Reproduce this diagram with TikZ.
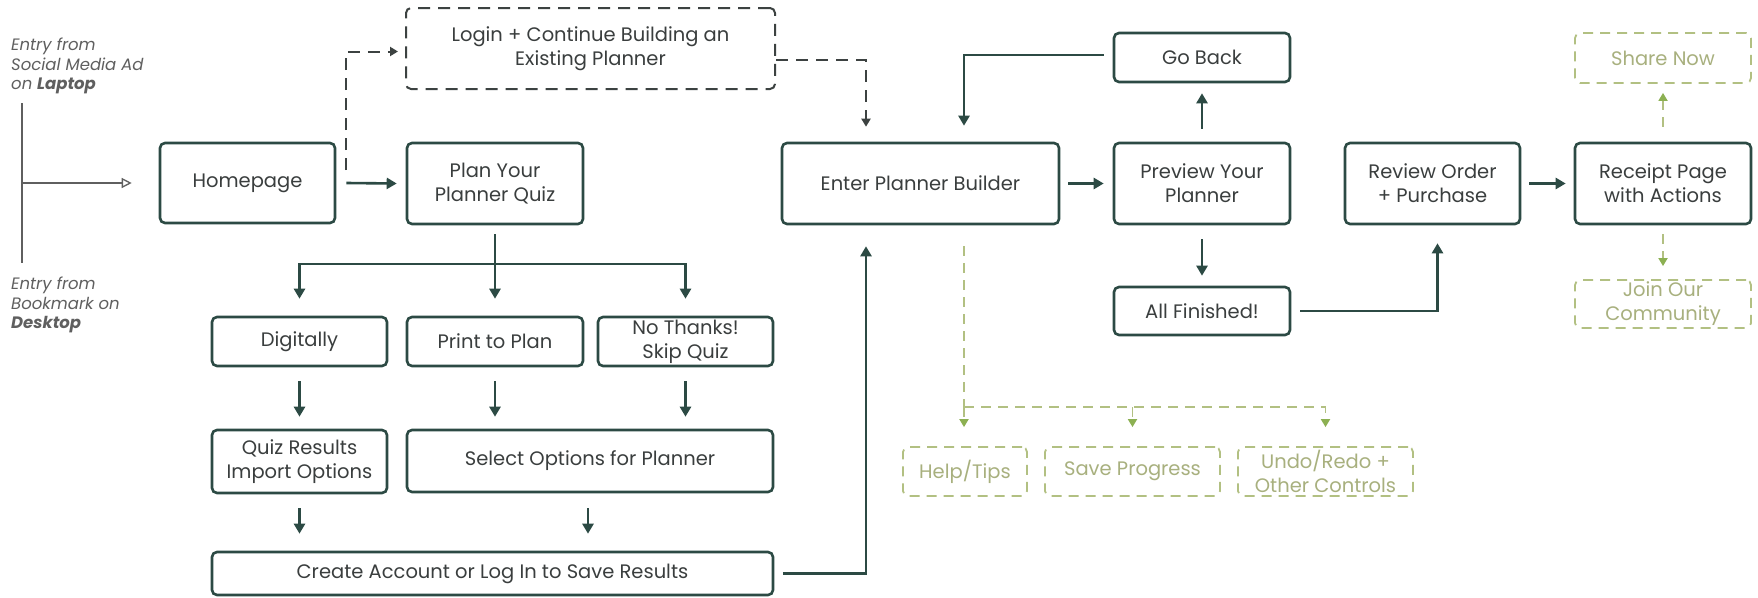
\documentclass[tikz,border=0pt]{standalone}
\usepackage{fontspec}
\setmainfont{Poppins}
\usetikzlibrary{arrows.meta,calc}
\definecolor{dk}{RGB}{44,74,68}
\definecolor{txt}{RGB}{58,62,62}
\definecolor{dsk}{RGB}{60,66,65}
\definecolor{gl}{RGB}{178,192,130}
\definecolor{ga}{RGB}{140,176,82}
\definecolor{gt}{RGB}{168,176,126}
\definecolor{ent}{RGB}{95,95,95}
\tikzset{
  box/.style={draw=dk, line width=2.6pt, rounded corners=5pt, text=txt, align=center,
    font=\fontsize{19.5}{24}\selectfont, inner sep=0pt},
  dbox/.style={box, draw=dsk, line width=2pt, dash pattern=on 12pt off 8pt},
  gbox/.style={box, draw=gl, line width=1.8pt, dash pattern=on 10pt off 7pt, text=gt},
  arr/.style={draw=dk, line width=2.6pt, -{Triangle[length=10pt,width=11pt]}},
  lin/.style={draw=dk, line width=2.6pt},
  darr/.style={draw=dsk, line width=2pt, dash pattern=on 12pt off 8pt, -{Triangle[length=8pt,width=9pt]}},
  garr/.style={draw=gl, line width=1.8pt, dash pattern=on 10pt off 7pt, -{Triangle[length=8pt,width=9pt,color=ga]}},
  glin/.style={draw=gl, line width=1.8pt, dash pattern=on 10pt off 7pt},
  entrytxt/.style={text=ent, align=left, inner sep=0pt, font=\itshape\fontsize{16.5}{19.5}\selectfont},
  entline/.style={draw=ent, line width=1.3pt},
}
\begin{document}
\begin{tikzpicture}[x=1pt,y=-1pt]
\fill[white] (0,0) rectangle (1758,597);
\useasboundingbox (0,0) rectangle (1758,597);

% entry texts
\node[entrytxt, anchor=north west] (e1) at (11,38) {Entry from\\Social Media Ad\\on \textbf{Laptop}};
\node[entrytxt, anchor=north west] (e2) at (11,277) {Entry from\\Bookmark on\\\textbf{Desktop}};

% main boxes
\node[box, minimum width=175pt, minimum height=80pt] (home) at (247.5,183) {Homepage};
\node[box, minimum width=176pt, minimum height=81pt] (quiz) at (495,183.5) {Plan Your\\Planner Quiz};
\node[dbox, minimum width=369pt, minimum height=81pt] (login) at (590.5,48.5) {Login + Continue Building an\\Existing Planner};
\node[box, minimum width=277pt, minimum height=81pt] (enter) at (920.5,183.5) {Enter Planner Builder};
\node[box, minimum width=176pt, minimum height=81pt] (preview) at (1202,183.5) {Preview Your\\Planner};
\node[box, minimum width=176pt, minimum height=49pt] (goback) at (1202,57.5) {Go Back};
\node[box, minimum width=176pt, minimum height=48pt] (allfin) at (1202,311) {All Finished!};
\node[box, minimum width=175pt, minimum height=81pt] (review) at (1432.5,183.5) {Review Order\\+ Purchase};
\node[box, minimum width=176pt, minimum height=81pt] (receipt) at (1663,183.5) {Receipt Page\\with Actions};
\node[gbox, minimum width=176pt, minimum height=50pt] (share) at (1663,58) {Share Now};
\node[gbox, minimum width=176pt, minimum height=48pt] (join) at (1663,304) {\fontsize{19.5}{20}\selectfont Join Our\\Community};

\node[box, minimum width=175pt, minimum height=49pt] (digit) at (299.5,341.5) {Digitally};
\node[box, minimum width=176pt, minimum height=49pt] (print) at (495,341.5) {Print to Plan};
\node[box, minimum width=175pt, minimum height=49pt] (nothx) at (685.5,341.5) {\fontsize{19.5}{20}\selectfont No Thanks!\\Skip Quiz};
\node[box, minimum width=175pt, minimum height=63pt] (qres) at (299.5,461.5) {Quiz Results\\Import Options};
\node[box, minimum width=366pt, minimum height=62pt] (select) at (590,461) {Select Options for Planner};
\node[box, minimum width=561pt, minimum height=43pt] (create) at (492.5,573.5) {Create Account or Log In to Save Results};

\node[gbox, minimum width=124pt, minimum height=49pt] (help) at (965,471.5) {Help/Tips};
\node[gbox, minimum width=175pt, minimum height=49pt] (save) at (1132.5,471.5) {Save Progress};
\node[gbox, minimum width=175pt, minimum height=49pt] (undo) at (1325.5,471.5) {\fontsize{19.5}{21}\selectfont Undo/Redo +\\Other Controls};

% entry connectors
\coordinate (etop) at (22,103);
\coordinate (ebot) at (22,263);
\coordinate (emid) at (22,183);
\draw[entline] (etop) -- (ebot);
\draw[entline, -{Triangle[open,length=10pt,width=10pt]}] (emid) -- ($(home.west)+(-27,0)$);

% solid connectors
\draw[arr] ($(home.east)+(10,0)$) -- ($(quiz.west)+(-9,0)$);
\draw[darr] ($(home.east)+(10,-13)$) |- ($(login.west)+(-7,3)$);
\draw[darr] ($(login.east)+(0,11.5)$) -| ($(enter.north)+(-54.5,-15)$);
\draw[arr] ($(goback.west)+(-9,-2.5)$) -| ($(enter.north)+(43.5,-16)$);
\draw[arr] ($(enter.east)+(8,0)$) -- ($(preview.west)+(-9,0)$);
\draw[arr] ($(preview.north)+(0,-13)$) -- ($(goback.south)+(0,10)$);
\draw[arr] ($(preview.south)+(0,14)$) -- ($(allfin.north)+(0,-10)$);
\draw[arr] ($(allfin.east)+(9,0)$) -| ($(review.south)+(5,18)$);
\draw[arr] ($(review.east)+(8,0)$) -- ($(receipt.west)+(-8,0)$);
\draw[garr] ($(receipt.north)+(0,-15)$) -- ($(share.south)+(0,9)$);
\draw[garr] ($(receipt.south)+(0,9)$) -- ($(join.north)+(0,-13)$);

% quiz branch
\coordinate (bj) at ($(quiz.south)+(0,38.5)$);
\draw[lin] ($(quiz.south)+(0,9)$) -- (bj);
\draw[arr] (bj) -| ($(digit.north)+(0,-17)$);
\draw[arr] (bj) -- ($(print.north)+(0,-17)$);
\draw[arr] (bj) -| ($(nothx.north)+(0,-17)$);

\draw[arr] ($(digit.south)+(0,14)$) -- ($(qres.north)+(0,-12)$);
\draw[arr] ($(print.south)+(0,14)$) -- ($(print.south |- select.north)+(0,-12)$);
\draw[arr] ($(nothx.south)+(0,14)$) -- ($(nothx.south |- select.north)+(0,-12)$);
\draw[arr] ($(qres.south)+(0,14)$) -- ($(qres.south |- create.north)+(0,-17)$);
\draw[arr] ($(select.south)+(-2,15)$) -- ($(select.south |- create.north)+(-2,-17)$);
\draw[arr] ($(create.east)+(8.5,0)$) -| ($(enter.south)+(-54.5,21)$);

% green tools branch
\coordinate (gj) at ($(enter.south)+(43.5,182)$);
\draw[glin] ($(enter.south)+(43.5,21)$) -- (gj);
\draw[garr] (gj) -- ($(gj |- help.north)+(0,-19)$);
\draw[garr] (gj) -| ($(undo.north)+(0,-19)$);
\draw[garr] (gj -| save.north) -- ($(save.north)+(0,-19)$);
\end{tikzpicture}
\end{document}
